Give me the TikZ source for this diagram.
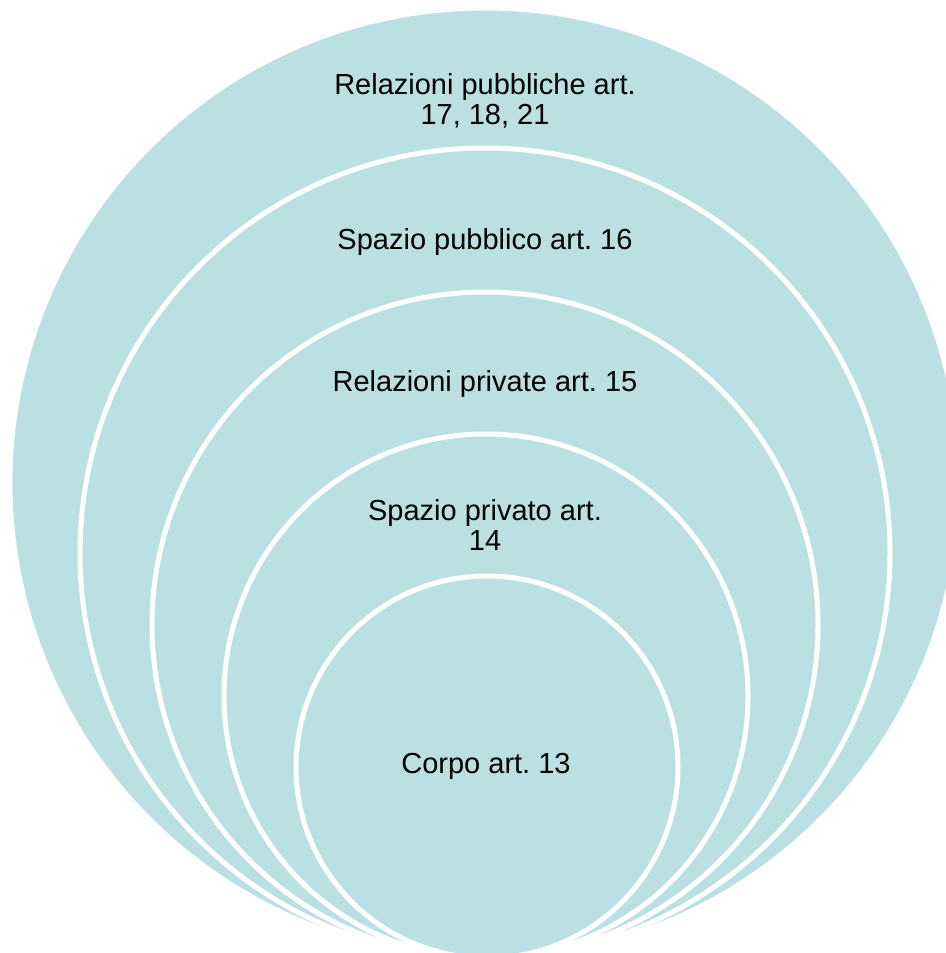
\documentclass[tikz,border=0pt]{standalone}
\usepackage{fontspec}
\setmainfont{Liberation Sans}
\frenchspacing
\definecolor{ringfill}{RGB}{187,224,227}
\begin{document}
\begin{tikzpicture}[x=1pt,y=-1pt,
  ring/.style={circle, fill=ringfill, draw=white, line width=5pt, inner sep=0pt, outer sep=0pt},
  lbl/.style={font=\fontsize{29}{30}\selectfont, align=center, anchor=base, inner sep=0pt, text=black}]
\useasboundingbox (0,0) rectangle (945,953);
\node[ring, minimum size=950pt] (c1) at (485,483) {};
\node[ring, minimum size=810pt] (c2) at (485,553) {};
\node[ring, minimum size=666pt] (c3) at (485,625) {};
\node[ring, minimum size=524pt] (c4) at (486,696) {};
\node[ring, minimum size=382pt] (c5) at (487,767) {};
\node[lbl] (t1) at (485,124) {Relazioni pubbliche art.\\17, 18, 21};
\node[lbl] (t2) at (485,249) {Spazio pubblico art. 16};
\node[lbl] (t3) at (485,391) {Relazioni private art. 15};
\node[lbl] (t4) at (485,550) {Spazio privato art.\\14};
\node[lbl] (t5) at (486,773) {Corpo art. 13};
\end{tikzpicture}
\end{document}
